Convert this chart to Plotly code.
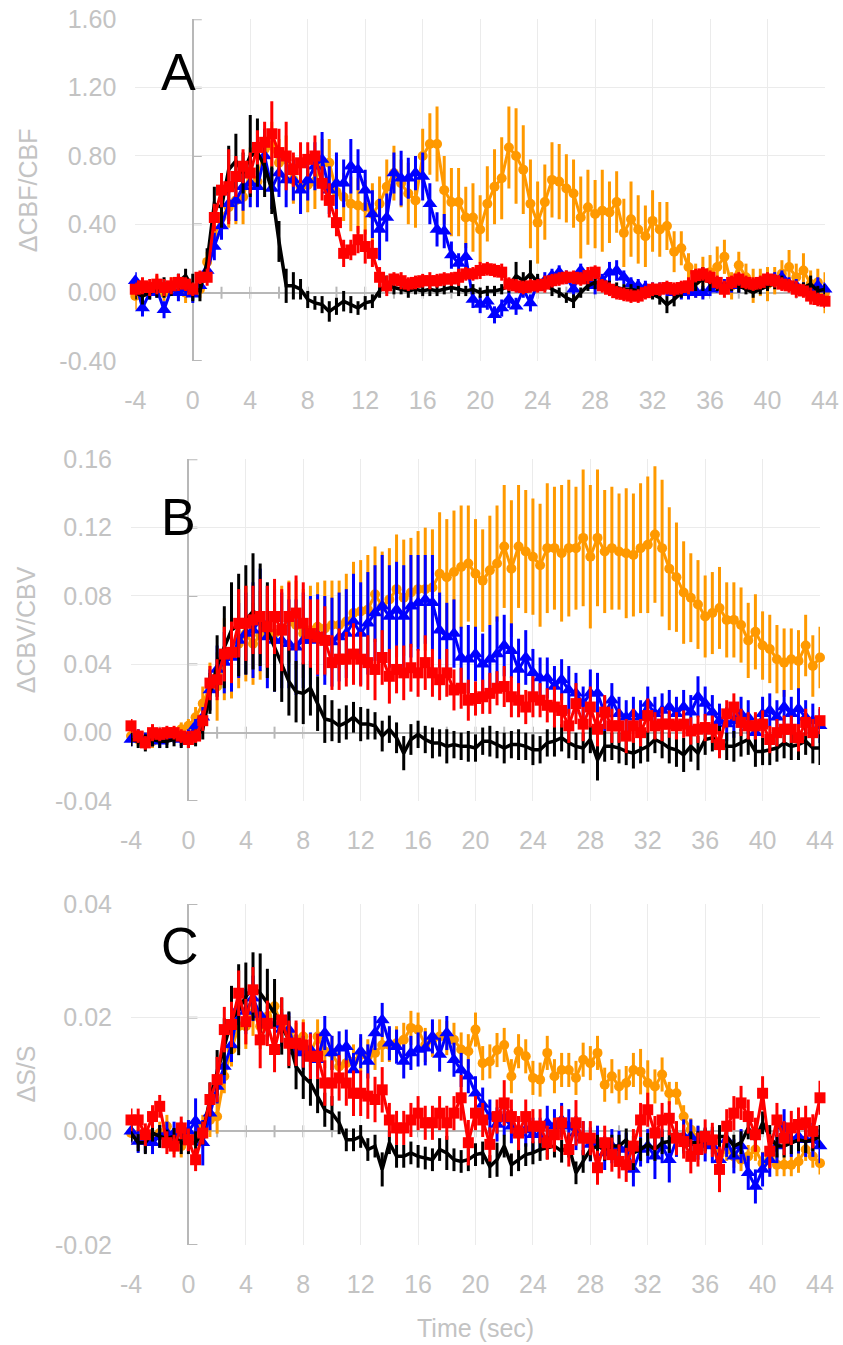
import plotly.graph_objects as go

TIME = [round(-4 + 0.5 * i, 1) for i in range(97)]
X_TICKS = [-4, 0, 4, 8, 12, 16, 20, 24, 28, 32, 36, 40, 44]
X_MINOR = [-4, -2, 0, 2, 4, 6, 8, 10, 12, 14, 16, 18, 20, 22, 24, 26, 28, 30, 32, 34, 36, 38, 40, 42, 44]

Y_TICKS_A = [-0.40, 0.00, 0.40, 0.80, 1.20, 1.60]
Y_TICKS_B = [-0.04, 0.00, 0.04, 0.08, 0.12, 0.16]
Y_TICKS_C = [-0.02, 0.00, 0.02, 0.04]

# ---------------- Panel A : dCBF/CBF ----------------
A_BLACK = [0.00,-0.02,0.00,0.02,0.03,0.02,0.06,0.10,0.03,0.01,
           0.18,0.52,0.50,0.72,0.77,0.70,0.80,0.82,0.74,0.60,
           0.30,0.04,0.04,0.02,-0.04,-0.06,-0.07,-0.11,-0.08,-0.05,
           -0.07,-0.09,-0.06,-0.05,0.01,0.05,0.03,0.02,0.01,0.02,
           0.01,0.02,0.01,0.02,0.03,0.02,0.01,0.02,0.00,0.01,
           0.01,0.02,0.04,0.10,0.07,0.11,0.06,0.05,0.02,0.00,
           -0.03,-0.05,0.00,0.04,0.06,0.05,0.04,0.03,0.02,0.02,
           0.01,0.00,-0.01,-0.03,-0.07,-0.04,0.00,0.03,0.05,0.08,
           0.06,0.05,0.03,0.05,0.04,0.02,0.00,0.02,0.04,0.05,
           0.06,0.04,0.02,0.03,0.05,0.01,0.02]
A_BLACK_ERR = [0.04,0.05,0.04,0.05,0.06,0.04,0.05,0.04,0.08,0.06,
               0.08,0.10,0.12,0.14,0.16,0.12,0.24,0.20,0.18,0.14,
               0.12,0.10,0.08,0.06,0.05,0.04,0.05,0.06,0.05,0.06,
               0.05,0.04,0.04,0.04,0.04,0.05,0.04,0.03,0.04,0.03,
               0.03,0.04,0.03,0.03,0.03,0.04,0.03,0.03,0.03,0.03,
               0.03,0.03,0.04,0.08,0.05,0.08,0.05,0.04,0.04,0.03,
               0.03,0.04,0.03,0.03,0.04,0.03,0.03,0.03,0.03,0.03,
               0.03,0.03,0.03,0.04,0.05,0.04,0.03,0.03,0.04,0.07,
               0.05,0.04,0.03,0.04,0.04,0.03,0.03,0.03,0.03,0.03,
               0.04,0.03,0.03,0.03,0.05,0.03,0.03]
A_RED = [0.02,0.04,0.03,0.05,0.03,0.04,0.06,0.05,0.02,0.09,
         0.09,0.44,0.60,0.62,0.68,0.74,0.70,0.85,0.88,0.93,
         0.82,0.80,0.72,0.76,0.78,0.80,0.64,0.54,0.41,0.23,
         0.25,0.31,0.27,0.23,0.09,0.04,0.08,0.07,0.05,0.06,
         0.07,0.07,0.07,0.08,0.08,0.09,0.11,0.11,0.13,0.14,
         0.13,0.12,0.05,0.04,0.03,0.04,0.04,0.05,0.07,0.08,
         0.09,0.09,0.08,0.10,0.12,0.04,0.02,0.00,-0.01,-0.02,
         -0.02,0.00,0.02,0.02,0.03,0.02,0.03,0.04,0.10,0.11,
         0.09,0.06,0.02,0.06,0.08,0.06,0.05,0.06,0.08,0.07,
         0.05,0.04,0.02,0.01,-0.02,-0.04,-0.05]
A_RED_ERR = [0.04,0.05,0.05,0.06,0.05,0.05,0.05,0.04,0.04,0.04,
             0.05,0.08,0.10,0.22,0.12,0.10,0.12,0.10,0.12,0.19,
             0.14,0.20,0.10,0.12,0.10,0.12,0.10,0.10,0.08,0.08,
             0.06,0.08,0.10,0.08,0.06,0.06,0.04,0.05,0.04,0.04,
             0.04,0.05,0.04,0.04,0.04,0.05,0.04,0.04,0.05,0.04,
             0.04,0.05,0.04,0.04,0.04,0.04,0.04,0.05,0.04,0.04,
             0.04,0.04,0.04,0.05,0.04,0.04,0.04,0.04,0.04,0.04,
             0.04,0.04,0.04,0.04,0.04,0.04,0.04,0.05,0.04,0.04,
             0.04,0.04,0.05,0.04,0.04,0.04,0.04,0.04,0.04,0.04,
             0.04,0.04,0.05,0.04,0.05,0.04,0.04]
A_BLUE = [0.07,-0.09,0.00,0.02,-0.10,0.02,0.00,0.02,-0.01,0.04,
          0.13,0.27,0.39,0.52,0.54,0.62,0.64,0.62,0.80,0.61,
          0.70,0.66,0.66,0.60,0.66,0.74,0.78,0.60,0.64,0.64,
          0.74,0.72,0.60,0.46,0.37,0.44,0.70,0.67,0.67,0.70,
          0.68,0.52,0.37,0.36,0.22,0.17,0.21,-0.04,-0.07,-0.05,
          -0.13,-0.09,-0.04,-0.08,0.02,-0.06,0.06,0.07,0.10,0.12,
          0.09,0.02,0.13,0.07,0.04,0.07,0.12,0.13,0.09,0.05,
          0.04,0.03,0.02,0.02,0.02,0.00,0.00,0.00,0.01,0.00,
          0.02,0.04,0.04,0.04,0.04,0.05,0.04,0.05,0.06,0.08,
          0.09,0.05,0.04,0.02,0.02,0.04,0.02]
A_BLUE_ERR = [0.05,0.05,0.04,0.05,0.05,0.04,0.05,0.04,0.05,0.04,
              0.05,0.08,0.08,0.10,0.12,0.14,0.14,0.12,0.16,0.12,
              0.14,0.16,0.12,0.14,0.12,0.14,0.16,0.14,0.18,0.14,
              0.16,0.12,0.12,0.14,0.18,0.14,0.12,0.16,0.12,0.10,
              0.14,0.12,0.10,0.10,0.08,0.06,0.08,0.05,0.05,0.05,
              0.05,0.05,0.05,0.05,0.05,0.05,0.04,0.05,0.04,0.04,
              0.04,0.05,0.04,0.04,0.05,0.04,0.06,0.06,0.04,0.04,
              0.04,0.04,0.04,0.04,0.04,0.04,0.04,0.04,0.04,0.04,
              0.04,0.04,0.04,0.04,0.04,0.04,0.04,0.04,0.04,0.04,
              0.04,0.04,0.04,0.04,0.04,0.05,0.04]
A_ORANGE = [-0.02,0.00,0.02,0.04,0.00,0.04,0.02,0.00,0.01,0.02,
            0.18,0.33,0.44,0.50,0.54,0.56,0.71,0.65,0.84,0.86,
            0.76,0.78,0.66,0.62,0.63,0.65,0.76,0.76,0.59,0.56,
            0.52,0.51,0.50,0.46,0.52,0.62,0.70,0.64,0.58,0.54,
            0.80,0.87,0.87,0.60,0.53,0.53,0.44,0.44,0.37,0.52,
            0.62,0.67,0.85,0.80,0.72,0.52,0.41,0.53,0.66,0.65,
            0.61,0.58,0.44,0.50,0.46,0.48,0.47,0.53,0.35,0.43,
            0.37,0.33,0.42,0.37,0.39,0.24,0.26,0.15,0.07,0.09,
            0.12,0.15,0.21,0.04,0.16,0.09,0.04,0.06,0.05,0.07,
            0.11,0.15,0.09,0.13,0.05,0.06,0.00]
A_ORANGE_ERR = [0.08,0.05,0.05,0.06,0.05,0.05,0.05,0.06,0.05,0.05,
                0.06,0.08,0.12,0.12,0.14,0.16,0.14,0.14,0.12,0.14,
                0.14,0.14,0.14,0.16,0.16,0.16,0.14,0.14,0.14,0.14,
                0.16,0.16,0.16,0.18,0.16,0.16,0.16,0.14,0.18,0.16,
                0.16,0.18,0.22,0.20,0.20,0.20,0.18,0.20,0.20,0.22,
                0.22,0.24,0.24,0.28,0.26,0.26,0.24,0.22,0.22,0.22,
                0.20,0.20,0.24,0.22,0.20,0.24,0.18,0.18,0.20,0.22,
                0.20,0.18,0.18,0.16,0.14,0.12,0.10,0.08,0.10,0.12,
                0.10,0.12,0.10,0.08,0.08,0.08,0.10,0.08,0.10,0.08,
                0.08,0.10,0.08,0.10,0.08,0.08,0.12]

# ---------------- Panel B : dCBV/CBV ----------------
B_BLACK = [-0.004,-0.005,-0.006,-0.004,-0.005,-0.005,-0.004,-0.004,-0.005,-0.003,
           0.002,0.023,0.039,0.050,0.060,0.063,0.066,0.071,0.069,0.060,
           0.050,0.040,0.030,0.024,0.023,0.026,0.017,0.008,0.007,0.004,
           0.006,0.009,0.005,0.005,0.004,-0.002,0.002,-0.003,-0.012,-0.004,
           -0.001,-0.004,-0.006,-0.006,-0.008,-0.007,-0.008,-0.008,-0.009,-0.005,
           -0.005,-0.007,-0.009,-0.007,-0.007,-0.008,-0.010,-0.010,-0.006,-0.005,
           -0.003,-0.006,-0.008,-0.009,-0.004,-0.016,-0.008,-0.008,-0.009,-0.011,
           -0.012,-0.010,-0.008,-0.004,-0.006,-0.009,-0.010,-0.013,-0.008,-0.012,
           -0.004,-0.003,-0.005,-0.008,-0.008,-0.006,-0.004,-0.011,-0.011,-0.010,
           -0.009,-0.006,-0.008,-0.007,-0.005,-0.009,-0.009]
B_BLACK_ERR = [0.004,0.004,0.005,0.004,0.004,0.004,0.004,0.005,0.004,0.005,
               0.006,0.012,0.018,0.024,0.028,0.030,0.032,0.034,0.030,0.028,
               0.026,0.022,0.020,0.018,0.018,0.016,0.016,0.014,0.012,0.010,
               0.010,0.009,0.010,0.009,0.008,0.009,0.008,0.009,0.010,0.009,
               0.008,0.008,0.009,0.008,0.010,0.008,0.008,0.009,0.008,0.008,
               0.009,0.008,0.009,0.008,0.009,0.008,0.009,0.008,0.008,0.009,
               0.008,0.009,0.008,0.009,0.008,0.012,0.009,0.008,0.009,0.008,
               0.009,0.008,0.009,0.008,0.009,0.009,0.010,0.010,0.009,0.010,
               0.009,0.008,0.009,0.008,0.009,0.008,0.009,0.009,0.008,0.009,
               0.008,0.009,0.008,0.009,0.008,0.009,0.010]
B_RED = [0.004,-0.002,-0.006,-0.000,-0.001,0.000,0.000,-0.002,-0.004,-0.002,
         0.007,0.029,0.031,0.046,0.047,0.064,0.064,0.066,0.068,0.062,
         0.068,0.060,0.068,0.070,0.064,0.058,0.056,0.054,0.041,0.043,
         0.043,0.046,0.043,0.041,0.037,0.044,0.033,0.037,0.035,0.038,
         0.035,0.041,0.035,0.031,0.035,0.025,0.026,0.019,0.020,0.021,
         0.023,0.026,0.027,0.021,0.019,0.015,0.021,0.019,0.016,0.015,
         0.013,0.004,0.017,0.005,0.015,0.002,0.012,0.004,0.004,-0.002,
         0.004,0.000,0.010,0.004,0.005,0.005,0.004,0.005,0.001,0.002,
         0.003,0.002,-0.007,0.011,0.015,0.006,0.004,0.004,0.005,-0.004,
         0.000,0.002,0.002,-0.003,0.006,0.000,0.007]
B_RED_ERR = [0.004,0.004,0.004,0.005,0.004,0.004,0.004,0.004,0.005,0.004,
             0.006,0.010,0.012,0.016,0.018,0.020,0.022,0.020,0.022,0.024,
             0.022,0.024,0.020,0.022,0.024,0.020,0.022,0.020,0.016,0.018,
             0.016,0.018,0.016,0.016,0.018,0.016,0.016,0.014,0.016,0.014,
             0.014,0.016,0.014,0.012,0.014,0.012,0.012,0.012,0.010,0.010,
             0.012,0.010,0.012,0.012,0.010,0.010,0.012,0.010,0.010,0.012,
             0.010,0.010,0.012,0.010,0.012,0.010,0.010,0.010,0.010,0.010,
             0.010,0.008,0.010,0.008,0.010,0.008,0.008,0.008,0.008,0.008,
             0.008,0.008,0.008,0.008,0.008,0.008,0.008,0.008,0.008,0.008,
             0.008,0.008,0.008,0.008,0.008,0.008,0.008]
B_BLUE = [-0.004,-0.002,-0.004,-0.004,-0.005,-0.003,-0.002,-0.004,-0.002,0.004,
          0.009,0.025,0.037,0.041,0.044,0.054,0.058,0.060,0.066,0.056,
          0.054,0.054,0.052,0.050,0.054,0.054,0.057,0.054,0.053,0.056,
          0.058,0.065,0.058,0.064,0.070,0.074,0.068,0.072,0.068,0.074,
          0.076,0.078,0.076,0.060,0.056,0.058,0.044,0.043,0.046,0.040,
          0.043,0.046,0.051,0.048,0.037,0.044,0.035,0.032,0.032,0.027,
          0.031,0.025,0.023,0.017,0.023,0.023,0.011,0.019,0.011,0.009,
          0.011,0.009,0.017,0.011,0.013,0.015,0.011,0.015,0.012,0.021,
          0.017,0.012,0.007,0.005,0.007,0.011,0.009,0.000,0.011,0.013,
          0.009,0.015,0.011,0.014,0.009,0.007,0.004]
B_BLUE_ERR = [0.004,0.004,0.004,0.004,0.004,0.004,0.004,0.004,0.004,0.004,
              0.006,0.012,0.014,0.018,0.020,0.022,0.024,0.028,0.030,0.030,
              0.030,0.028,0.026,0.028,0.028,0.026,0.024,0.026,0.026,0.026,
              0.026,0.028,0.030,0.030,0.028,0.030,0.030,0.028,0.030,0.030,
              0.028,0.026,0.028,0.022,0.020,0.020,0.018,0.020,0.016,0.018,
              0.020,0.022,0.018,0.016,0.018,0.016,0.014,0.012,0.012,0.012,
              0.012,0.014,0.012,0.010,0.014,0.012,0.010,0.010,0.010,0.010,
              0.010,0.010,0.010,0.010,0.010,0.010,0.010,0.010,0.010,0.012,
              0.010,0.010,0.010,0.010,0.010,0.010,0.010,0.010,0.010,0.010,
              0.010,0.010,0.010,0.012,0.010,0.010,0.010]
B_ORANGE = [-0.002,-0.004,-0.004,-0.005,-0.002,-0.003,-0.001,0.002,0.004,0.009,
            0.017,0.027,0.027,0.043,0.046,0.052,0.058,0.052,0.057,0.058,
            0.058,0.060,0.065,0.063,0.058,0.060,0.062,0.061,0.063,0.063,
            0.065,0.070,0.071,0.072,0.081,0.074,0.078,0.084,0.079,0.082,
            0.084,0.084,0.085,0.093,0.091,0.094,0.097,0.099,0.093,0.089,
            0.095,0.099,0.109,0.096,0.109,0.106,0.103,0.098,0.108,0.108,
            0.105,0.108,0.108,0.114,0.103,0.114,0.106,0.108,0.106,0.105,
            0.104,0.108,0.110,0.116,0.108,0.096,0.091,0.082,0.079,0.075,
            0.068,0.070,0.073,0.066,0.066,0.063,0.054,0.059,0.051,0.049,
            0.043,0.041,0.043,0.042,0.051,0.039,0.044]
B_ORANGE_ERR = [0.004,0.004,0.004,0.004,0.004,0.004,0.004,0.004,0.004,0.006,
                0.010,0.014,0.020,0.024,0.026,0.026,0.028,0.024,0.026,0.026,
                0.028,0.026,0.024,0.026,0.026,0.026,0.026,0.028,0.026,0.026,
                0.028,0.030,0.030,0.032,0.028,0.032,0.030,0.032,0.034,0.032,
                0.034,0.036,0.034,0.036,0.034,0.036,0.036,0.034,0.032,0.030,
                0.032,0.034,0.036,0.040,0.036,0.036,0.034,0.036,0.038,0.036,
                0.040,0.040,0.036,0.040,0.042,0.040,0.036,0.036,0.034,0.038,
                0.036,0.038,0.040,0.040,0.040,0.036,0.032,0.030,0.026,0.026,
                0.024,0.024,0.024,0.022,0.022,0.022,0.022,0.022,0.020,0.020,
                0.020,0.020,0.018,0.018,0.018,0.018,0.018]

# ---------------- Panel C : dS/S ----------------
C_BLACK = [-0.0003,-0.0020,-0.0020,-0.0003,-0.0009,-0.0012,-0.0009,-0.0020,-0.0020,-0.0020,
           -0.0003,0.0056,0.0103,0.0149,0.0196,0.0214,0.0237,0.0255,0.0243,0.0226,
           0.0208,0.0185,0.0161,0.0114,0.0097,0.0085,0.0062,0.0038,0.0032,0.0015,
           -0.0015,-0.0015,-0.0009,-0.0032,-0.0026,-0.0067,-0.0020,-0.0044,-0.0044,-0.0038,
           -0.0044,-0.0047,-0.0050,-0.0032,-0.0038,-0.0050,-0.0053,-0.0050,-0.0041,-0.0038,
           -0.0062,-0.0050,-0.0026,-0.0059,-0.0050,-0.0041,-0.0038,-0.0032,-0.0029,-0.0026,
           -0.0035,-0.0026,-0.0073,-0.0053,-0.0032,-0.0026,-0.0032,-0.0026,-0.0026,-0.0015,
           -0.0038,-0.0032,-0.0023,-0.0032,-0.0020,-0.0018,-0.0003,-0.0015,-0.0020,-0.0020,
           -0.0015,-0.0012,-0.0009,-0.0009,-0.0026,-0.0020,0.0006,-0.0015,0.0015,-0.0009,
           -0.0026,-0.0026,-0.0020,-0.0015,-0.0018,-0.0015,-0.0009]
C_BLACK_ERR = [0.0015,0.0015,0.002,0.0015,0.002,0.0015,0.0015,0.002,0.002,0.002,
               0.002,0.003,0.004,0.005,0.006,0.008,0.006,0.006,0.007,0.006,
               0.006,0.005,0.005,0.004,0.004,0.004,0.003,0.003,0.003,0.002,
               0.002,0.002,0.002,0.002,0.002,0.003,0.002,0.002,0.002,0.002,
               0.002,0.002,0.002,0.002,0.003,0.002,0.002,0.002,0.002,0.002,
               0.002,0.003,0.002,0.002,0.002,0.002,0.002,0.002,0.002,0.002,
               0.002,0.002,0.002,0.002,0.002,0.002,0.002,0.002,0.002,0.002,
               0.003,0.002,0.002,0.002,0.002,0.002,0.002,0.002,0.002,0.002,
               0.002,0.002,0.002,0.002,0.002,0.002,0.002,0.002,0.002,0.002,
               0.002,0.002,0.002,0.002,0.002,0.002,0.002]
C_RED = [0.0020,0.0020,-0.0006,0.0026,0.0044,-0.0020,-0.0026,0.0006,-0.0015,-0.0050,
         -0.0003,0.0056,0.0091,0.0179,0.0188,0.0243,0.0193,0.0249,0.0161,0.0190,
         0.0144,0.0196,0.0155,0.0155,0.0152,0.0132,0.0132,0.0085,0.0085,0.0094,
         0.0085,0.0067,0.0067,0.0062,0.0056,0.0073,0.0020,0.0006,0.0006,0.0020,
         0.0032,0.0015,0.0015,0.0032,0.0015,0.0032,0.0059,-0.0020,0.0032,0.0020,
         -0.0023,0.0026,0.0050,0.0026,-0.0003,0.0026,0.0009,0.0009,-0.0020,-0.0006,
         0.0015,-0.0032,0.0015,-0.0012,-0.0012,-0.0064,-0.0020,-0.0041,-0.0053,-0.0059,
         -0.0026,0.0020,0.0038,-0.0003,0.0020,0.0023,-0.0012,-0.0018,-0.0044,-0.0032,
         -0.0009,-0.0015,-0.0067,0.0009,0.0032,0.0050,0.0026,-0.0006,0.0067,-0.0035,
         0.0020,-0.0012,0.0006,0.0012,0.0015,0.0000,0.0059]
C_RED_ERR = [0.002,0.002,0.002,0.002,0.002,0.002,0.002,0.002,0.002,0.002,
             0.002,0.003,0.004,0.004,0.004,0.004,0.004,0.004,0.005,0.004,
             0.004,0.004,0.004,0.004,0.004,0.004,0.004,0.004,0.004,0.004,
             0.004,0.004,0.004,0.004,0.004,0.004,0.003,0.003,0.003,0.003,
             0.003,0.003,0.003,0.003,0.003,0.003,0.004,0.004,0.003,0.003,
             0.003,0.003,0.004,0.003,0.003,0.003,0.003,0.003,0.003,0.003,
             0.003,0.003,0.004,0.003,0.003,0.003,0.003,0.003,0.003,0.003,
             0.003,0.003,0.003,0.003,0.003,0.003,0.003,0.003,0.003,0.003,
             0.003,0.003,0.004,0.003,0.003,0.003,0.003,0.003,0.003,0.003,
             0.003,0.003,0.003,0.003,0.003,0.003,0.003]
C_BLUE = [0.0000,-0.0018,-0.0018,-0.0020,-0.0009,-0.0003,-0.0003,-0.0003,0.0000,0.0018,
          -0.0020,0.0032,0.0079,0.0114,0.0152,0.0217,0.0211,0.0234,0.0205,0.0190,
          0.0187,0.0179,0.0179,0.0141,0.0138,0.0144,0.0126,0.0173,0.0138,0.0146,
          0.0149,0.0108,0.0141,0.0123,0.0173,0.0196,0.0155,0.0149,0.0123,0.0138,
          0.0144,0.0146,0.0167,0.0135,0.0173,0.0126,0.0108,0.0097,0.0067,0.0047,
          0.0026,0.0012,0.0023,0.0009,-0.0003,0.0003,-0.0006,-0.0006,0.0015,0.0009,
          0.0020,0.0009,-0.0003,-0.0012,-0.0023,-0.0020,-0.0038,-0.0026,-0.0029,-0.0032,
          -0.0067,-0.0032,-0.0026,-0.0044,-0.0026,-0.0050,-0.0015,-0.0009,-0.0009,-0.0020,
          -0.0023,-0.0026,-0.0050,-0.0015,-0.0044,-0.0026,-0.0073,-0.0097,-0.0067,-0.0050,
          -0.0026,0.0009,-0.0015,-0.0009,-0.0015,-0.0015,-0.0026]
C_BLUE_ERR = [0.002,0.002,0.002,0.002,0.002,0.002,0.002,0.002,0.002,0.004,
              0.004,0.003,0.003,0.003,0.003,0.003,0.004,0.004,0.003,0.003,
              0.003,0.003,0.003,0.003,0.003,0.003,0.003,0.003,0.003,0.003,
              0.003,0.003,0.003,0.003,0.003,0.003,0.003,0.003,0.003,0.003,
              0.003,0.003,0.003,0.003,0.003,0.003,0.003,0.003,0.003,0.003,
              0.003,0.003,0.003,0.003,0.003,0.003,0.003,0.003,0.003,0.003,
              0.003,0.003,0.003,0.003,0.003,0.003,0.003,0.003,0.003,0.003,
              0.003,0.003,0.003,0.004,0.003,0.004,0.003,0.003,0.003,0.003,
              0.003,0.003,0.003,0.003,0.003,0.003,0.003,0.003,0.003,0.003,
              0.003,0.003,0.003,0.003,0.003,0.003,0.003]
C_ORANGE = [-0.0003,-0.0009,-0.0015,-0.0009,-0.0003,0.0009,-0.0020,-0.0026,-0.0015,-0.0009,
            0.0009,0.0020,0.0026,0.0097,0.0144,0.0185,0.0185,0.0208,0.0185,0.0202,
            0.0220,0.0185,0.0173,0.0161,0.0167,0.0138,0.0167,0.0141,0.0138,0.0114,
            0.0120,0.0123,0.0135,0.0132,0.0138,0.0152,0.0152,0.0155,0.0161,0.0182,
            0.0179,0.0152,0.0161,0.0167,0.0164,0.0161,0.0144,0.0141,0.0179,0.0120,
            0.0123,0.0143,0.0152,0.0097,0.0141,0.0132,0.0094,0.0091,0.0138,0.0097,
            0.0108,0.0108,0.0094,0.0126,0.0120,0.0138,0.0082,0.0097,0.0079,0.0085,
            0.0108,0.0105,0.0085,0.0079,0.0100,0.0067,0.0067,0.0026,0.0003,-0.0012,
            -0.0015,-0.0020,-0.0041,-0.0032,-0.0044,-0.0050,-0.0044,-0.0032,-0.0056,-0.0047,
            -0.0059,-0.0059,-0.0059,-0.0053,-0.0032,-0.0044,-0.0056]
C_ORANGE_ERR = [0.002,0.002,0.002,0.002,0.002,0.002,0.002,0.002,0.002,0.002,
                0.002,0.003,0.003,0.003,0.003,0.004,0.004,0.004,0.004,0.004,
                0.004,0.003,0.003,0.003,0.003,0.003,0.003,0.003,0.003,0.003,
                0.003,0.003,0.003,0.003,0.003,0.003,0.003,0.003,0.003,0.003,
                0.003,0.003,0.003,0.003,0.003,0.003,0.003,0.003,0.003,0.003,
                0.003,0.003,0.003,0.003,0.003,0.003,0.003,0.003,0.003,0.003,
                0.003,0.003,0.003,0.003,0.003,0.003,0.003,0.003,0.003,0.003,
                0.003,0.004,0.004,0.003,0.003,0.002,0.002,0.002,0.002,0.002,
                0.002,0.002,0.002,0.002,0.002,0.002,0.002,0.002,0.002,0.002,
                0.002,0.002,0.002,0.002,0.002,0.002,0.002]

PANEL_LETTERS = ["A", "B", "C"]
Y_TITLES = ["\u0394CBF/CBF", "\u0394CBV/CBV", "\u0394S/S"]
X_TITLE = "Time (sec)"

# ---------------- styling / layout ----------------
W, H = 843, 1345
FONT = "Liberation Sans, Arial, sans-serif"
GRAY_TXT = "#c3c3c3"
GRID = "#ebebeb"
AXIS = "#b8b8b8"
COLORS = {"black": "#000000", "red": "#ff0000", "blue": "#0000ff", "orange": "#ff9900"}

# plot-area pixel boxes: (left, right, top, bottom)
BOXES = [(135.3, 825.0, 19.3, 361.0),
         (131.0, 820.0, 459.3, 801.0),
         (131.0, 820.0, 904.0, 1245.0)]
Y_RANGES = [(-0.40, 1.60), (-0.04, 0.16), (-0.02, 0.04)]
Y_TICKS = [Y_TICKS_A, Y_TICKS_B, Y_TICKS_C]
LETTER_POS = [(178, 72), (178, 517), (180, 946)]
YTITLE_X = [28, 26, 25]

panels = [
    dict(orange=(A_ORANGE, A_ORANGE_ERR), blue=(A_BLUE, A_BLUE_ERR), black=(A_BLACK, A_BLACK_ERR), red=(A_RED, A_RED_ERR)),
    dict(orange=(B_ORANGE, B_ORANGE_ERR), blue=(B_BLUE, B_BLUE_ERR), black=(B_BLACK, B_BLACK_ERR), red=(B_RED, B_RED_ERR)),
    dict(orange=(C_ORANGE, C_ORANGE_ERR), blue=(C_BLUE, C_BLUE_ERR), black=(C_BLACK, C_BLACK_ERR), red=(C_RED, C_RED_ERR)),
]

for p in panels:
    for k, (v, e) in p.items():
        if len(v) != len(TIME) or len(e) != len(TIME):
            raise ValueError(f"length mismatch {k}: {len(v)} {len(e)}")

MARKERS = {"orange": ("circle", 10), "blue": ("triangle-up", 13), "red": ("square", 11)}
LINE_W = {"orange": 3, "blue": 3, "black": 3.5, "red": 3}

fig = go.Figure()
shapes = []
annotations = []
layout = {}

for i, p in enumerate(panels):
    n = "" if i == 0 else str(i + 1)
    xa, ya = "x" + n, "y" + n
    l, r, t, b = BOXES[i]
    for key in ["orange", "blue", "black", "red"]:
        vals, errs = p[key]
        col = COLORS[key]
        tr = dict(x=TIME, y=vals, xaxis=xa, yaxis=ya, showlegend=False, cliponaxis=False,
                  line=dict(color=col, width=LINE_W[key]),
                  error_y=dict(type="data", array=errs, visible=True, color=col, thickness=3, width=0))
        if key == "black":
            tr["mode"] = "lines"
        else:
            sym, sz = MARKERS[key]
            tr["mode"] = "lines+markers"
            tr["marker"] = dict(symbol=sym, size=sz, color=col, line=dict(width=0))
        fig.add_trace(go.Scatter(**tr))

    yt = Y_TICKS[i]
    layout["xaxis" + n] = dict(domain=[l / W, r / W], range=[-4, 44], anchor=ya,
                               tickmode="array", tickvals=X_TICKS, ticktext=[str(v) for v in X_TICKS],
                               showgrid=True, gridcolor=GRID, gridwidth=1,
                               zeroline=True, zerolinecolor=AXIS, zerolinewidth=2,
                               showline=False, ticks="", automargin=False,
                               tickfont=dict(family=FONT, size=25, color=GRAY_TXT),
                               ticklabelstandoff=22, fixedrange=True)
    layout["yaxis" + n] = dict(domain=[1 - b / H, 1 - t / H], range=list(Y_RANGES[i]), anchor=xa,
                               tickmode="array", tickvals=yt, ticktext=[f"{v:.2f}" for v in yt],
                               showgrid=True, gridcolor=GRID, gridwidth=1,
                               zeroline=True, zerolinecolor=AXIS, zerolinewidth=2,
                               showline=False, ticks="", automargin=False,
                               tickfont=dict(family=FONT, size=25, color=GRAY_TXT),
                               ticklabelstandoff=18, fixedrange=True)

    for tv in X_MINOR:
        shapes.append(dict(type="line", xref=xa, yref=ya, x0=tv, x1=tv, ysizemode="pixel", yanchor=0,
                           y0=-6, y1=6, line=dict(color=AXIS, width=2), layer="below"))
    for yv in yt:
        shapes.append(dict(type="line", xref=xa, yref=ya, xsizemode="pixel", xanchor=0, x0=0, x1=9,
                           y0=yv, y1=yv, line=dict(color=AXIS, width=2), layer="below"))

    lx, ly = LETTER_POS[i]
    annotations.append(dict(text=PANEL_LETTERS[i], xref="paper", yref="paper", x=lx / W, y=1 - ly / H,
                            xanchor="center", yanchor="middle", showarrow=False,
                            font=dict(family=FONT, size=52, color="#000000")))
    annotations.append(dict(text=Y_TITLES[i], xref="paper", yref="paper", x=YTITLE_X[i] / W,
                            y=1 - ((t + b) / 2) / H, xanchor="center", yanchor="middle",
                            textangle=-90, showarrow=False,
                            font=dict(family=FONT, size=25, color=GRAY_TXT)))

annotations.append(dict(text=X_TITLE, xref="paper", yref="paper", x=((131 + 820) / 2) / W, y=1 - 1328 / H,
                        xanchor="center", yanchor="middle", showarrow=False,
                        font=dict(family=FONT, size=25, color=GRAY_TXT)))

fig.update_layout(template="none", width=W, height=H, margin=dict(l=0, r=0, t=0, b=0, pad=0),
                  paper_bgcolor="white", plot_bgcolor="white", showlegend=False,
                  shapes=shapes, annotations=annotations, **layout)

fig.write_html("out.html", include_plotlyjs=True, config={"displayModeBar": False})
